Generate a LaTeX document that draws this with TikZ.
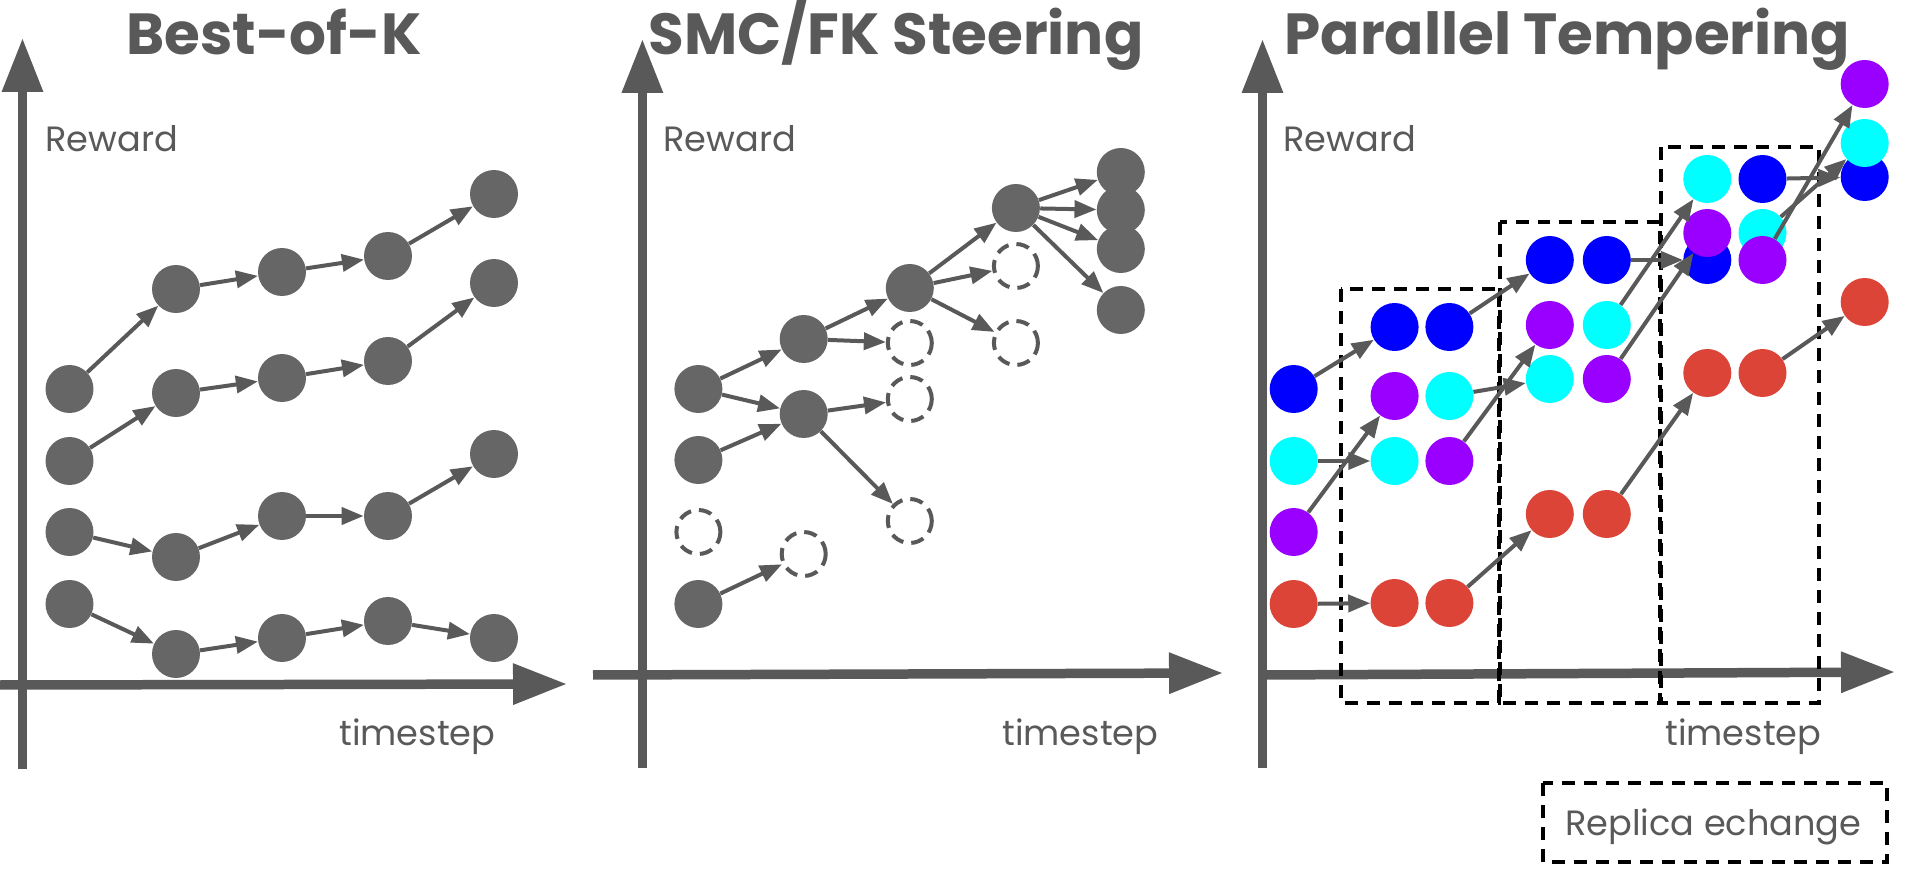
\documentclass[tikz,border=0pt]{standalone}
\usepackage{fontspec}
\setmainfont{Poppins}
\usepackage{tikz}
\usetikzlibrary{arrows.meta, shapes.geometric}
\definecolor{inkgray}{HTML}{595959}
\definecolor{ballgray}{HTML}{666666}
\definecolor{repblue}{HTML}{0000FF}
\definecolor{repcyan}{HTML}{00FFFF}
\definecolor{reppurple}{HTML}{9900FF}
\definecolor{repred}{HTML}{DB4437}
\tikzstyle{ball} = [circle, fill=ballgray, 
minimum size=0.96cm, 
inner sep=0pt]
\tikzstyle{ghost} = [circle, draw=inkgray, 
line width=0.08cm, 
dash pattern=on 0.26cm off 0.16cm, 
minimum size=0.88cm, 
inner sep=0pt]
\tikzstyle{blueball} = [ball, fill=repblue]
\tikzstyle{cyanball} = [ball, fill=repcyan]
\tikzstyle{purpleball} = [ball, fill=reppurple]
\tikzstyle{redball} = [ball, fill=repred]
\tikzstyle{arrow} = [line width=0.08cm, draw=inkgray, fill=inkgray,
-{Triangle[length=0.44cm, width=0.34cm]}]
\tikzstyle{axisline} = [line width=0.19cm, draw=inkgray, fill=inkgray,
-{Triangle[length=1.08cm, width=0.78cm]}]
\tikzstyle{swapbox} = [draw=black, line width=0.08cm, 
dash pattern=on 0.26cm off 0.18cm]
\tikzstyle{paneltitle} = [font=\fontsize{33pt}{40pt}\selectfont\bfseries, 
text=inkgray, anchor=base, inner sep=0pt]
\tikzstyle{axislabel} = [font=\fontsize{20pt}{24pt}\selectfont, 
text=inkgray, anchor=base west, inner sep=0pt]
\tikzstyle{legendtext} = [font=\fontsize{20pt}{24pt}\selectfont, 
text=inkgray, anchor=base west, inner sep=0pt]

\begin{document}
\begin{tikzpicture}[x=0.02cm, y=-0.02cm]
        \useasboundingbox (0,0) rectangle (1908,871);

        % Best-of-K
        \node (t1) [paneltitle] at (274,55) {Best-of-K};
        \coordinate (y1s) at (22.5,769);
        \coordinate (y1e) at (22.5,38);
        \coordinate (x1s) at (0,685);
        \coordinate (x1e) at (567,684);
        \draw [axisline] (y1s) -- (y1e);
        \draw [axisline] (x1s) -- (x1e);
        \node (r1) [axislabel] at (45,152) {Reward};
        \node (s1) [axislabel] at (339,745) {timestep};

        \node (k11) [ball] at (69.5,389) {};
        \node (k12) [ball] at (176,289) {};
        \node (k13) [ball] at (282,272) {};
        \node (k14) [ball] at (388,256) {};
        \node (k15) [ball] at (494,194) {};
        \node (k21) [ball] at (69.5,461) {};
        \node (k22) [ball] at (176,393) {};
        \node (k23) [ball] at (282,378) {};
        \node (k24) [ball] at (388,361) {};
        \node (k25) [ball] at (494,283) {};
        \node (k31) [ball] at (69.5,532) {};
        \node (k32) [ball] at (176,557) {};
        \node (k33) [ball] at (282,516) {};
        \node (k34) [ball] at (388,516) {};
        \node (k35) [ball] at (494,454) {};
        \node (k41) [ball] at (69.5,604) {};
        \node (k42) [ball] at (176,654) {};
        \node (k43) [ball] at (282,638) {};
        \node (k44) [ball] at (388,621) {};
        \node (k45) [ball] at (494,638) {};

        \draw [arrow] (k11) -- (k12);
        \draw [arrow] (k12) -- (k13);
        \draw [arrow] (k13) -- (k14);
        \draw [arrow] (k14) -- (k15);
        \draw [arrow] (k21) -- (k22);
        \draw [arrow] (k22) -- (k23);
        \draw [arrow] (k23) -- (k24);
        \draw [arrow] (k24) -- (k25);
        \draw [arrow] (k31) -- (k32);
        \draw [arrow] (k32) -- (k33);
        \draw [arrow] (k33) -- (k34);
        \draw [arrow] (k34) -- (k35);
        \draw [arrow] (k41) -- (k42);
        \draw [arrow] (k42) -- (k43);
        \draw [arrow] (k43) -- (k44);
        \draw [arrow] (k44) -- (k45);

        % SMC/FK Steering
        \node (t2) [paneltitle] at (896,55) {SMC/FK Steering};
        \coordinate (y2s) at (642.4,768);
        \coordinate (y2e) at (642.4,39);
        \coordinate (x2s) at (593,675);
        \coordinate (x2e) at (1223,673);
        \draw [axisline] (y2s) -- (y2e);
        \draw [axisline] (x2s) -- (x2e);
        \node (r2) [axislabel] at (663,152) {Reward};
        \node (s2) [axislabel] at (1002,745) {timestep};

        \node (sa1) [ball] at (698.4,389) {};
        \node (sa2) [ball] at (698.4,460) {};
        \node (sa3) [ghost] at (698.4,532) {};
        \node (sa4) [ball] at (698.4,604) {};
        \node (sb1) [ball] at (803.7,339) {};
        \node (sb2) [ball] at (803.7,414) {};
        \node (sb3) [ghost] at (803.7,554) {};
        \node (sc1) [ball] at (909.8,288) {};
        \node (sc2) [ghost] at (909.8,343) {};
        \node (sc3) [ghost] at (909.8,399) {};
        \node (sc4) [ghost] at (909.8,521) {};
        \node (sd1) [ball] at (1015.9,208) {};
        \node (sd2) [ghost] at (1015.9,266) {};
        \node (sd3) [ghost] at (1015.9,343) {};
        \node (se1) [ball] at (1120.8,172) {};
        \node (se2) [ball] at (1120.8,210) {};
        \node (se3) [ball] at (1120.8,249) {};
        \node (se4) [ball] at (1120.8,310) {};

        \draw [arrow] (sa1) -- (sb1);
        \draw [arrow] (sa1) -- (sb2);
        \draw [arrow] (sa2) -- (sb2);
        \draw [arrow] (sa4) -- (sb3);
        \draw [arrow] (sb1) -- (sc1);
        \draw [arrow] (sb1) -- (sc2);
        \draw [arrow] (sb2) -- (sc3);
        \draw [arrow] (sb2) -- (sc4);
        \draw [arrow] (sc1) -- (sd1);
        \draw [arrow] (sc1) -- (sd2);
        \draw [arrow] (sc1) -- (sd3);
        \draw [arrow] (sd1) -- (se1);
        \draw [arrow] (sd1) -- (se2);
        \draw [arrow] (sd1) -- (se3);
        \draw [arrow] (sd1) -- (se4);

        % Parallel Tempering
        \node (t3) [paneltitle] at (1567.4,55) {Parallel Tempering};
        \coordinate (y3s) at (1262.5,768);
        \coordinate (y3e) at (1262.5,39);
        \coordinate (x3s) at (1262.5,675);
        \coordinate (x3e) at (1895,672);
        \draw [axisline] (y3s) -- (y3e);
        \draw [axisline] (x3s) -- (x3e);
        \node (r3) [axislabel] at (1283,152) {Reward};
        \node (s3) [axislabel] at (1665,745) {timestep};

        \draw [swapbox] (1340.6,289) rectangle (1498.5,703);
        \draw [swapbox] (1499.8,222) rectangle (1660,703);
        \draw [swapbox] (1660.8,147) rectangle (1818.7,703);

        \node (b0) [blueball] at (1293.7,389) {};
        \node (b1) [blueball] at (1394.6,327) {};
        \node (b2) [blueball] at (1449.4,327) {};
        \node (b3) [blueball] at (1549.8,260) {};
        \node (b4) [blueball] at (1606.8,260) {};
        \node (b5) [blueball] at (1707.3,260) {};
        \node (b6) [blueball] at (1762.5,179) {};
        \node (b7) [blueball] at (1864.7,177) {};
        \node (c0) [cyanball] at (1293.7,461) {};
        \node (c1) [cyanball] at (1394.6,461) {};
        \node (c2) [cyanball] at (1449.4,396) {};
        \node (c3) [cyanball] at (1549.8,379) {};
        \node (c4) [cyanball] at (1606.8,325) {};
        \node (c5) [cyanball] at (1707.3,179) {};
        \node (c6) [cyanball] at (1762.5,233) {};
        \node (c7) [cyanball] at (1864.7,143) {};
        \node (p0) [purpleball] at (1293.7,532) {};
        \node (p1) [purpleball] at (1394.6,396) {};
        \node (p2) [purpleball] at (1449.4,461) {};
        \node (p3) [purpleball] at (1549.8,325) {};
        \node (p4) [purpleball] at (1606.8,379) {};
        \node (p5) [purpleball] at (1707.3,233) {};
        \node (p6) [purpleball] at (1762.5,260) {};
        \node (p7) [purpleball] at (1864.7,84) {};
        \node (q0) [redball] at (1293.7,604) {};
        \node (q1) [redball] at (1394.6,603) {};
        \node (q2) [redball] at (1449.4,603) {};
        \node (q3) [redball] at (1549.8,514) {};
        \node (q4) [redball] at (1606.8,514) {};
        \node (q5) [redball] at (1707.3,373) {};
        \node (q6) [redball] at (1762.5,373) {};
        \node (q7) [redball] at (1864.7,302) {};

        \draw [arrow] (b0) -- (b1);
        \draw [arrow] (c0) -- (c1);
        \draw [arrow] (p0) -- (p1);
        \draw [arrow] (q0) -- (q1);
        \draw [arrow] (b2) -- (b3);
        \draw [arrow] (c2) -- (c3);
        \draw [arrow] (p2) -- (p3);
        \draw [arrow] (q2) -- (q3);
        \draw [arrow] (b4) -- (b5);
        \draw [arrow] (c4) -- (c5);
        \draw [arrow] (p4) -- (p5);
        \draw [arrow] (q4) -- (q5);
        \draw [arrow] (b6) -- (b7);
        \draw [arrow] (c6) -- (c7);
        \draw [arrow] (p6) -- (p7);
        \draw [arrow] (q6) -- (q7);

        % legend
        \draw [swapbox] (1543,783) rectangle (1887,862);
        \node (leg) [legendtext] at (1565,835) {Replica echange};

    \end{tikzpicture}
\end{document}
